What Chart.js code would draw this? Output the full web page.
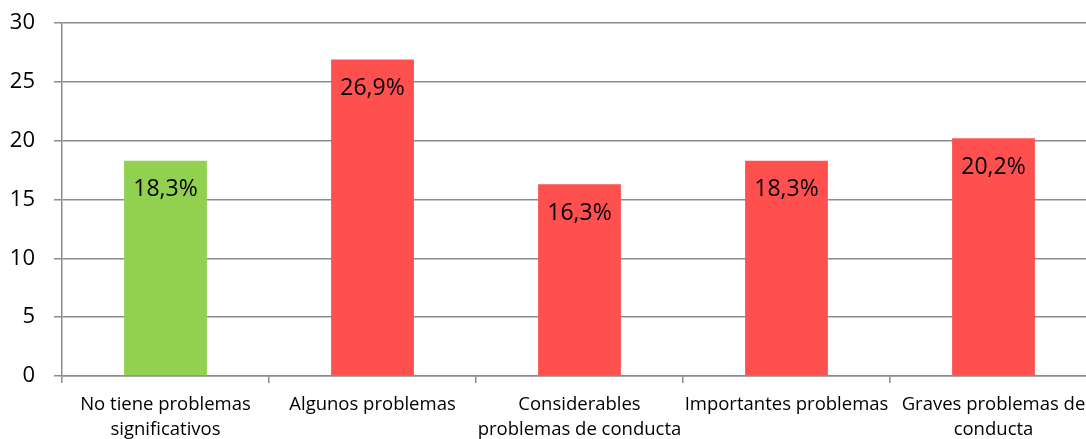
<!DOCTYPE html>
<html>
<head>
<meta charset="utf-8">
<script src="https://cdn.jsdelivr.net/npm/chart.js@4/dist/chart.umd.min.js"></script>
<style>
  html, body { margin: 0; padding: 0; background: #fff; overflow: hidden; }
  #wrap { position: relative; width: 1100px; height: 439px; }
</style>
</head>
<body>
<div id="wrap"><canvas id="c"></canvas></div>
<script>
// Categories, values and tick settings
const categories = [
  ["No tiene problemas", "significativos"],
  "Algunos problemas",
  ["Considerables", "problemas de conducta"],
  "Importantes problemas",
  ["Graves problemas de", "conducta"]
];
const values = [18.3, 26.9, 16.3, 18.3, 20.2];
const valueLabels = ["18,3%", "26,9%", "16,3%", "18,3%", "20,2%"];
const barColors = ["#92D050", "#FF5050", "#FF5050", "#FF5050", "#FF5050"];
const yMin = 0, yMax = 30, yStep = 5;

const FONT = "'Open Sans', 'Noto Sans', sans-serif";

// Writes the percentage label inside each bar, just under its top
const barLabels = {
  id: 'barLabels',
  afterDatasetsDraw(chart) {
    const ctx = chart.ctx;
    const meta = chart.getDatasetMeta(0);
    ctx.save();
    ctx.font = "23px " + FONT;
    ctx.fillStyle = "#000";
    ctx.textAlign = "center";
    ctx.textBaseline = "middle";
    meta.data.forEach((bar, i) => {
      ctx.fillText(valueLabels[i], bar.x, bar.y + 29);
    });
    ctx.restore();
  }
};

new Chart(document.getElementById('c'), {
  type: 'bar',
  data: {
    labels: categories,
    datasets: [{
      data: values,
      backgroundColor: barColors,
      borderWidth: 0,
      categoryPercentage: 1,
      barPercentage: 0.4
    }]
  },
  options: {
    responsive: true,
    maintainAspectRatio: false,
    animation: false,
    events: [],
    layout: { padding: { top: 23, right: 3, left: 0, bottom: 0 } },
    plugins: { legend: { display: false }, tooltip: { enabled: false } },
    scales: {
      x: {
        offset: true,
        grid: {
          offset: true,
          drawOnChartArea: false,
          drawTicks: true,
          tickLength: 7,
          color: '#8c8c8c',
          lineWidth: 1.5
        },
        border: { color: '#8c8c8c', width: 1.5 },
        ticks: {
          color: '#000',
          font: { family: FONT, size: 18.5, lineHeight: 1.35 },
          padding: 9,
          maxRotation: 0,
          autoSkip: false
        },
        afterFit(scale) {
          scale.height = 63;
          scale.paddingLeft = 0;
          scale.paddingRight = 0;
        }
      },
      y: {
        min: yMin,
        max: yMax,
        grid: {
          color: '#8c8c8c',
          lineWidth: 1.5,
          drawTicks: true,
          tickLength: 8
        },
        border: { color: '#8c8c8c', width: 1.5 },
        ticks: {
          stepSize: yStep,
          color: '#000',
          font: { family: FONT, size: 22 },
          padding: 19
        },
        afterFit(scale) {
          scale.width = 62;
          scale.paddingTop = 0;
          scale.paddingBottom = 0;
        }
      }
    }
  },
  plugins: [barLabels]
});
</script>
</body>
</html>
